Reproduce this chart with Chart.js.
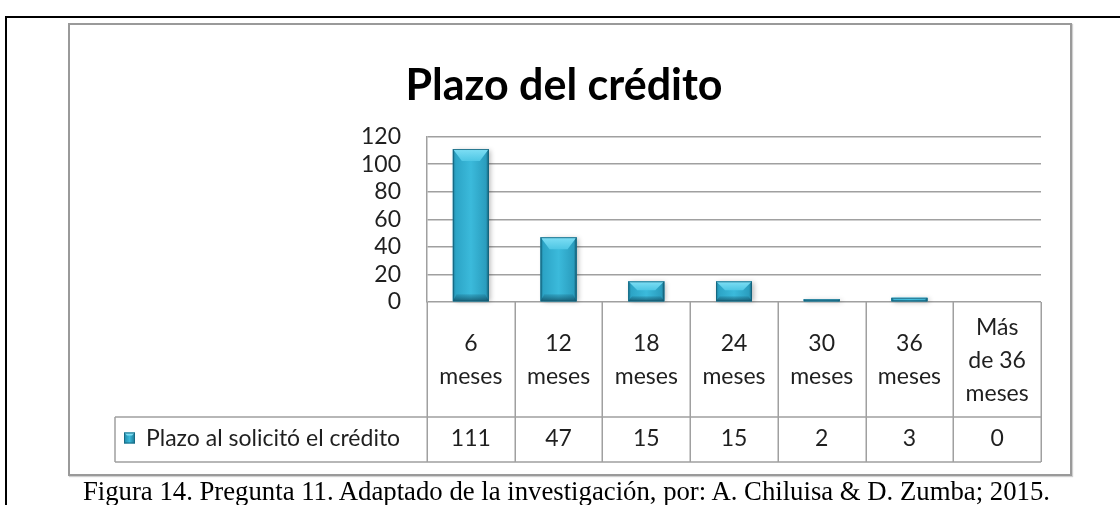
<!DOCTYPE html>
<html><head><meta charset="utf-8">
<script src="https://cdn.jsdelivr.net/npm/chart.js@4.4.1/dist/chart.umd.min.js"></script>
<style>
html,body{margin:0;padding:0;background:#fff;width:1120px;height:505px;overflow:hidden;}
#page{position:absolute;left:5px;top:16px;width:1300px;height:700px;border-left:2px solid #000;border-top:2px solid #000;}
#box{position:absolute;left:68px;top:23px;width:1000px;height:449px;border:2px solid #9a9a9a;box-shadow:1px 1px 1px #d0d0d0;}
#wrap{position:absolute;left:0;top:0;width:1120px;height:505px;}
#cap{position:absolute;left:6px;top:478px;width:1120px;text-align:center;line-height:27px;white-space:nowrap;}
#cap span{display:inline-block;font-family:"Liberation Serif","Times New Roman",serif;font-size:27px;color:#000;transform-origin:50% 50%;}
</style></head>
<body>
<div id="page"></div>
<div id="box"></div>
<div id="wrap"><canvas id="c" width="1120" height="505"></canvas></div>
<div id="cap"><span id="capText">Figura 14. Pregunta 11. Adaptado de la investigación, por: A. Chiluisa &amp; D. Zumba; 2015.</span></div>
<script>
// ---- data ----
const chartTitle = "Plazo del crédito";
const seriesName = "Plazo al solicitó el crédito";
const categories = [["6","meses"],["12","meses"],["18","meses"],["24","meses"],["30","meses"],["36","meses"],["Más","de 36","meses"]];
const values = [111, 47, 15, 15, 2, 3, 0];
const yMin = 0, yMax = 120, yStep = 20;

// ---- caption width fit ----
(function(){
  const s = document.getElementById('capText');
  const w = s.getBoundingClientRect().width;
  s.style.transform = 'scaleX(' + (967 / w) + ')';
})();

const FONT = 'Lato, "Open Sans", sans-serif';
const TXT = '#1f1f1f';
const LINE = '#a0a0a0';

function drawBevelBar(ctx, l, r, t, b) {
  const h = b - t, w = r - l;
  if (h <= 0) return;
  ctx.save();
  ctx.shadowColor = 'rgba(0,0,0,0.28)';
  ctx.shadowBlur = 5; ctx.shadowOffsetX = 2; ctx.shadowOffsetY = 1;
  ctx.fillStyle = '#2a9fc1';
  ctx.fillRect(l, t, w, h);
  ctx.restore();
  ctx.save();
  const g = ctx.createLinearGradient(l, 0, r, 0);
  g.addColorStop(0, '#1b7d99'); g.addColorStop(0.08, '#2ca4c6');
  g.addColorStop(0.5, '#3bbadb'); g.addColorStop(0.92, '#2a9dbe'); g.addColorStop(1, '#16667e');
  ctx.fillStyle = g; ctx.fillRect(l, t, w, h);
  const dT = Math.min(12, h * 0.45), dS = Math.min(4, w * 0.1, h * 0.3), dB = Math.min(7, h * 0.25);
  const gt = ctx.createLinearGradient(0, t, 0, t + dT);
  gt.addColorStop(0, '#7fdff5'); gt.addColorStop(1, '#4ec6e4');
  ctx.fillStyle = gt;
  ctx.beginPath(); ctx.moveTo(l, t); ctx.lineTo(r, t); ctx.lineTo(r - dS * 2.5, t + dT); ctx.lineTo(l + dS * 2.5, t + dT); ctx.closePath(); ctx.fill();
  const gb = ctx.createLinearGradient(0, b - dB, 0, b);
  gb.addColorStop(0, 'rgba(20,90,115,0.2)'); gb.addColorStop(1, 'rgba(15,70,90,0.75)');
  ctx.fillStyle = gb;
  ctx.beginPath(); ctx.moveTo(l, b); ctx.lineTo(r, b); ctx.lineTo(r - dS, b - dB); ctx.lineTo(l + dS, b - dB); ctx.closePath(); ctx.fill();
  ctx.strokeStyle = 'rgba(20,95,120,0.8)'; ctx.lineWidth = 1;
  ctx.strokeRect(l + 0.5, t + 0.5, w - 1, Math.max(h - 1, 0.5));
  ctx.restore();
}

const tablePlugin = {
  id: 'tablePlugin',
  afterDatasetsDraw(chart) {
    const ctx = chart.ctx;
    const meta = chart.getDatasetMeta(0);
    meta.data.forEach(el => {
      const p = el.getProps(['x', 'y', 'base', 'width'], true);
      if (p.base - p.y > 0.2) drawBevelBar(ctx, p.x - p.width / 2, p.x + p.width / 2, p.y, p.base);
    });
  },
  afterDraw(chart) {
    const ctx = chart.ctx;
    const { left, right, bottom } = chart.chartArea;
    const n = categories.length;
    const cw = (right - left) / n;
    const r1 = bottom + 115, r2 = r1 + 45, tl = 115;
    ctx.save();
    ctx.strokeStyle = LINE; ctx.lineWidth = 1.5;
    ctx.beginPath();
    for (let i = 0; i <= n; i++) {
      const x = Math.round(left + i * cw) + 0.25;
      ctx.moveTo(x, bottom); ctx.lineTo(x, r2);
    }
    ctx.moveTo(tl, r1); ctx.lineTo(right, r1);
    ctx.moveTo(tl, r2); ctx.lineTo(right, r2);
    ctx.moveTo(tl, r1); ctx.lineTo(tl, r2);
    ctx.stroke();
    ctx.fillStyle = TXT; ctx.font = '23px ' + FONT;
    ctx.textAlign = 'center'; ctx.textBaseline = 'middle';
    const cy = (bottom + r1) / 2 + 1, lh = 33;
    categories.forEach((lines, i) => {
      const x = left + (i + 0.5) * cw;
      const y0 = cy - (lines.length - 1) * lh / 2;
      lines.forEach((s, k) => ctx.fillText(s, x, y0 + k * lh));
    });
    const vy = (r1 + r2) / 2 - 1;
    values.forEach((v, i) => ctx.fillText(String(v), left + (i + 0.5) * cw, vy));
    const mx = 124, my = vy - 6, ms = 11;
    const gm = ctx.createLinearGradient(mx, 0, mx + ms, 0);
    gm.addColorStop(0, '#1f87a5'); gm.addColorStop(0.5, '#3bbadb'); gm.addColorStop(1, '#1a7590');
    ctx.fillStyle = gm; ctx.fillRect(mx, my, ms, ms);
    ctx.fillStyle = '#7fdff5';
    ctx.beginPath(); ctx.moveTo(mx, my); ctx.lineTo(mx + ms, my); ctx.lineTo(mx + ms - 3, my + 3); ctx.lineTo(mx + 3, my + 3); ctx.closePath(); ctx.fill();
    ctx.strokeStyle = '#176a84'; ctx.lineWidth = 1; ctx.strokeRect(mx + 0.5, my + 0.5, ms - 1, ms - 1);
    ctx.fillStyle = TXT; ctx.textAlign = 'left';
    ctx.fillText(seriesName, 146, vy);
    ctx.restore();
  }
};

new Chart(document.getElementById('c'), {
  type: 'bar',
  data: {
    labels: categories,
    datasets: [{ label: seriesName, data: values, backgroundColor: '#2ea6c8', borderWidth: 0,
      barPercentage: 0.41, categoryPercentage: 1.0 }]
  },
  options: {
    responsive: false, animation: false, devicePixelRatio: 1,
    layout: { padding: { left: 87, right: 79, top: 0, bottom: 203 } },
    plugins: {
      legend: { display: false }, tooltip: { enabled: false },
      title: { display: true, text: chartTitle, color: '#000',
        font: { family: FONT, size: 43, weight: 'bold', lineHeight: 1.2 },
        padding: { top: 60, bottom: 25 } }
    },
    scales: {
      x: { display: false },
      y: {
        min: yMin, max: yMax,
        afterFit(scale) { scale.width = 340; },
        ticks: { stepSize: yStep, autoSkip: false, padding: 26, color: TXT, font: { family: FONT, size: 23 } },
        grid: { color: LINE, lineWidth: 1.5, drawTicks: false },
        border: { display: true, color: LINE, width: 1.5 }
      }
    }
  },
  plugins: [tablePlugin]
});
</script>
</body></html>
